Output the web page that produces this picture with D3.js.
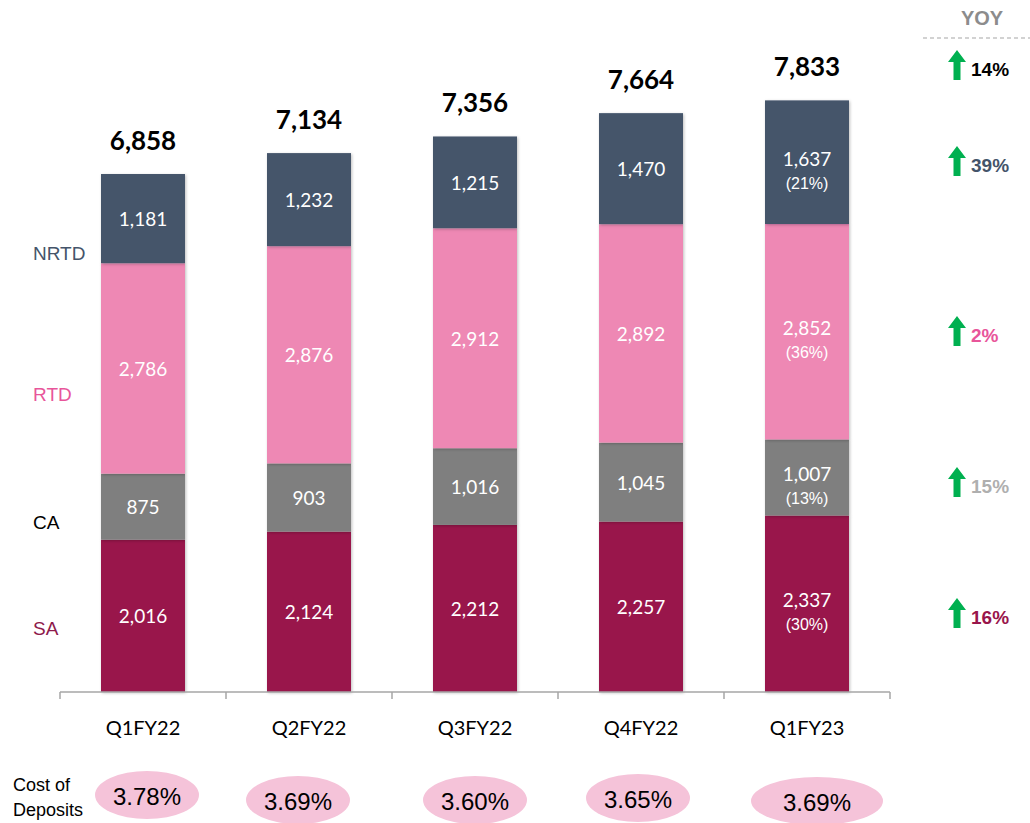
<!DOCTYPE html>
<html>
<head>
<meta charset="utf-8">
<script src="https://cdn.jsdelivr.net/npm/d3@7"></script>
<style>
  body { margin: 0; background: #fff; }
  text { font-family: "Liberation Sans", Arial, sans-serif; }
  .cal { font-family: Lato, "Open Sans", sans-serif; }
</style>
</head>
<body>
<div id="chart"></div>
<script>
// deposits mix by quarter (Rs bn)
var quarters = ['Q1FY22', 'Q2FY22', 'Q3FY22', 'Q4FY22', 'Q1FY23'];
var saValues   = [2016, 2124, 2212, 2257, 2337];
var caValues   = [875, 903, 1016, 1045, 1007];
var rtdValues  = [2786, 2876, 2912, 2892, 2852];
var nrtdValues = [1181, 1232, 1215, 1470, 1637];
var totals     = [6858, 7134, 7356, 7664, 7833];
var latestShare = ['(30%)', '(13%)', '(36%)', '(21%)'];   // SA, CA, RTD, NRTD in Q1FY23
var costOfDeposits = ['3.78%', '3.69%', '3.60%', '3.65%', '3.69%'];
var segmentNames = ['SA', 'CA', 'RTD', 'NRTD'];
var yoyLabels = ['14%', '39%', '2%', '15%', '16%'];   // total, NRTD, RTD, CA, SA

var width = 1030, height = 823;
var colors = {SA: '#99154B', CA: '#7F7F7F', RTD: '#EE88B4', NRTD: '#44546A'};
var labelColors = {SA: '#8E1A4B', CA: '#000000', RTD: '#E8559A', NRTD: '#44546A'};

var svg = d3.select('#chart').append('svg')
            .attr('width', width)
            .attr('height', height);

var defs = svg.append('defs');
var shadow = defs.append('filter').attr('id', 'shadow')
                 .attr('x', '-10%').attr('y', '-10%').attr('width', '130%').attr('height', '130%');
shadow.append('feDropShadow')
      .attr('dx', 1).attr('dy', 1).attr('stdDeviation', 1.5)
      .attr('flood-color', '#000').attr('flood-opacity', 0.25);

//Scales
var x = d3.scaleBand()
          .domain(quarters)
          .range([60, 890])
          .paddingInner(0.494)
          .paddingOuter(0.247);
var y = d3.scaleLinear()
          .domain([0, 9162])
          .range([692, 0]);

//Stack the segments
var rows = quarters.map(function(q, i) {
  return {quarter: q, SA: saValues[i], CA: caValues[i], RTD: rtdValues[i], NRTD: nrtdValues[i]};
});
var stacked = d3.stack().keys(segmentNames)(rows);

var layers = svg.append('g').selectAll('g')
  .data(stacked)
  .enter().append('g')
  .attr('fill', function(d) { return colors[d.key]; });

layers.selectAll('rect')
  .data(function(d) { return d.map(function(p) { p.key = d.key; return p; }); })
  .enter().append('rect')
  .attr('x', function(d) { return x(d.data.quarter); })
  .attr('y', function(d) { return y(d[1]); })
  .attr('width', x.bandwidth())
  .attr('height', function(d) { return y(d[0]) - y(d[1]); })
  .attr('filter', 'url(#shadow)');

//Values inside the bars
stacked.forEach(function(layer, li) {
  layer.forEach(function(p, i) {
    var cx = x(p.data.quarter) + x.bandwidth() / 2;
    var cy = (y(p[0]) + y(p[1])) / 2;
    var last = i === quarters.length - 1;
    svg.append('text')
       .attr('class', 'cal')
       .attr('x', cx)
       .attr('y', last ? cy - 4 : cy)
       .attr('text-anchor', 'middle')
       .attr('dominant-baseline', 'central')
       .attr('font-size', '19px')
       .attr('fill', '#fff')
       .text(d3.format(',')(p[1] - p[0]));
    if (last) {
      svg.append('text')
         .attr('x', cx)
         .attr('y', cy + 21)
         .attr('text-anchor', 'middle')
         .attr('dominant-baseline', 'central')
         .attr('font-size', '16px')
         .attr('fill', '#fff')
         .text(latestShare[li]);
    }
  });
});

//Totals above the bars
svg.append('g').selectAll('text')
  .data(totals)
  .enter().append('text')
  .attr('class', 'cal')
  .attr('x', function(d, i) { return x(quarters[i]) + x.bandwidth() / 2; })
  .attr('y', function(d) { return y(d) - 34; })
  .attr('text-anchor', 'middle')
  .attr('dominant-baseline', 'central')
  .attr('font-size', '26px')
  .attr('font-weight', 'bold')
  .attr('fill', '#000')
  .text(d3.format(','));

//Axis
var axisG = svg.append('g')
  .attr('transform', 'translate(0,692)');
axisG.append('line')
  .attr('x1', 60).attr('x2', 890)
  .attr('stroke', '#A6A6A6').attr('stroke-width', 1.5);
var tickX = quarters.map(function(q) { return x(q) - x.step() * x.paddingOuter(); });
tickX.push(890);
axisG.selectAll('.tick')
  .data(tickX)
  .enter().append('line')
  .attr('x1', function(d) { return d; })
  .attr('x2', function(d) { return d; })
  .attr('y1', 0).attr('y2', 7)
  .attr('stroke', '#A6A6A6').attr('stroke-width', 1.5);
axisG.selectAll('.qlabel')
  .data(quarters)
  .enter().append('text')
  .attr('class', 'cal')
  .attr('x', function(d) { return x(d) + x.bandwidth() / 2; })
  .attr('y', 35)
  .attr('text-anchor', 'middle')
  .attr('dominant-baseline', 'central')
  .attr('font-size', '20px')
  .attr('fill', '#000')
  .text(function(d) { return d; });

//Series labels on the left
var leftY = {NRTD: 253, RTD: 394, CA: 522, SA: 628};
segmentNames.forEach(function(name) {
  svg.append('text')
     .attr('x', 33)
     .attr('y', leftY[name])
     .attr('dominant-baseline', 'central')
     .attr('font-size', '19px')
     .attr('fill', labelColors[name])
     .text(name);
});

//YOY column
svg.append('text')
   .attr('x', 982).attr('y', 18)
   .attr('text-anchor', 'middle')
   .attr('dominant-baseline', 'central')
   .attr('font-size', '20px')
   .attr('font-weight', 'bold')
   .attr('fill', '#8C8C8C')
   .text('YOY');
svg.append('line')
   .attr('x1', 923).attr('x2', 1030)
   .attr('y1', 38).attr('y2', 38)
   .attr('stroke', '#A6A6A6').attr('stroke-width', 1.2)
   .attr('stroke-dasharray', '4,3');

var yoyY = [68, 164, 334, 485, 616];
var yoyColors = ['#000000', '#44546A', '#E8559A', '#AFAFAF', '#99154B'];
var yoyG = svg.append('g').selectAll('g')
  .data(yoyLabels)
  .enter().append('g')
  .attr('transform', function(d, i) { return 'translate(957,' + yoyY[i] + ')'; });
yoyG.append('path')
  .attr('d', 'M0,-18 L9,-6 L3.5,-6 L3.5,12 L-3.5,12 L-3.5,-6 L-9,-6 Z')
  .attr('fill', '#00B050');
yoyG.append('text')
  .attr('x', 14)
  .attr('y', 1)
  .attr('dominant-baseline', 'central')
  .attr('font-size', '19px')
  .attr('font-weight', 'bold')
  .attr('fill', function(d, i) { return yoyColors[i]; })
  .text(function(d) { return d; });

//Cost of deposits
svg.append('text')
   .attr('x', 13).attr('y', 785)
   .attr('dominant-baseline', 'central')
   .attr('font-size', '18px').attr('fill', '#000')
   .text('Cost of');
svg.append('text')
   .attr('x', 13).attr('y', 810)
   .attr('dominant-baseline', 'central')
   .attr('font-size', '18px').attr('fill', '#000')
   .text('Deposits');

var pillShift = [4, -11, 0, -3, 10];
var pillRx = [52, 52, 52, 52, 66];
var pillY = [795, 800, 800, 798, 801];
var pills = svg.append('g').selectAll('g')
  .data(costOfDeposits)
  .enter().append('g')
  .attr('transform', function(d, i) {
    return 'translate(' + (x(quarters[i]) + x.bandwidth() / 2 + pillShift[i]) + ',' + pillY[i] + ')';
  });
pills.append('ellipse')
  .attr('rx', function(d, i) { return pillRx[i]; })
  .attr('ry', 24)
  .attr('fill', '#F5C3D9');
pills.append('text')
  .attr('y', 1)
  .attr('text-anchor', 'middle')
  .attr('dominant-baseline', 'central')
  .attr('font-size', '24px')
  .attr('fill', '#000')
  .text(function(d) { return d; });
</script>
</body>
</html>
